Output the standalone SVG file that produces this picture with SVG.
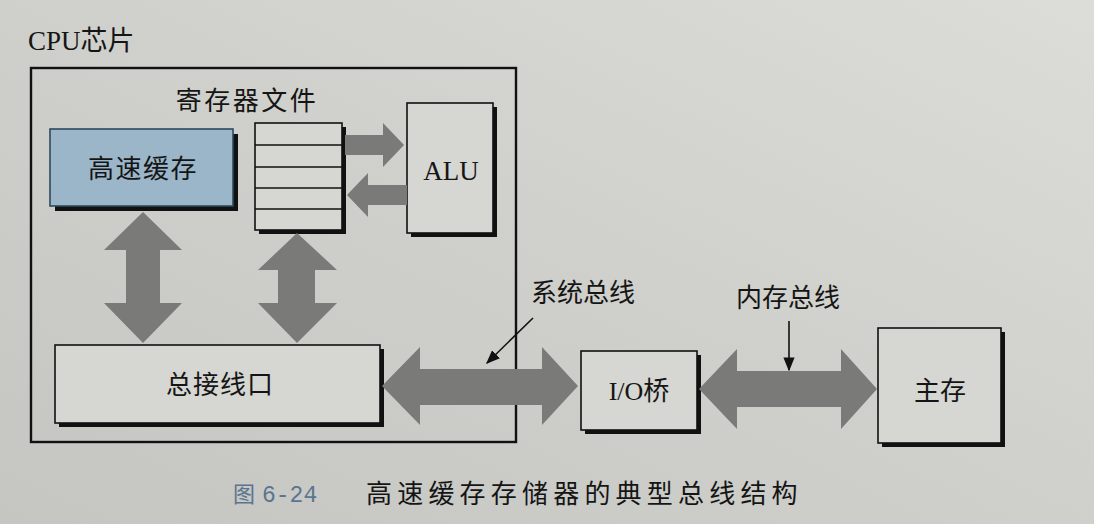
<svg xmlns="http://www.w3.org/2000/svg" width="1094" height="524" viewBox="0 0 1094 524">
<defs>
<linearGradient id="bg" x1="0" y1="1" x2="1" y2="0">
<stop offset="0" stop-color="#c5c5c1"/>
<stop offset="0.5" stop-color="#cfcfcb"/>
<stop offset="1" stop-color="#dcdcd9"/>
</linearGradient>
<marker id="ah2" viewBox="0 0 10 10" refX="9" refY="5" markerWidth="14" markerHeight="14" markerUnits="userSpaceOnUse" orient="auto">
<path d="M0,1 L10,5 L0,9 z" fill="#111"/>
</marker>
</defs>
<style>
.box{fill:#d6d6d2;stroke:#111;stroke-width:1.6}
.sh{fill:#111}
.arr{fill:#7a7a78}
.t{font-family:"Liberation Serif","Noto Sans CJK SC",serif;fill:#151515}
.cn{font-size:26px;text-anchor:middle}
.ptr{stroke:#111;stroke-width:1.6;fill:none}
</style>
<rect x="0" y="0" width="1094" height="524" fill="url(#bg)"/>

<g id="cpu">
<text class="t" x="28" y="50" font-size="27">CPU芯片</text>
<rect x="31" y="68" width="485" height="374" fill="none" stroke="#111" stroke-width="2.4"/>
</g>

<g id="regfile">
<text class="t cn" x="247" y="110" letter-spacing="2.5">寄存器文件</text>
<rect class="sh" x="259" y="127" width="87" height="107"/>
<rect class="box" x="255" y="123" width="87" height="107"/>
<line x1="255" y1="145" x2="342" y2="145" stroke="#111" stroke-width="1.5"/>
<line x1="255" y1="167" x2="342" y2="167" stroke="#111" stroke-width="1.5"/>
<line x1="255" y1="188" x2="342" y2="188" stroke="#111" stroke-width="1.5"/>
<line x1="255" y1="209" x2="342" y2="209" stroke="#111" stroke-width="1.5"/>
</g>

<g id="cache">
<rect class="sh" x="55" y="134" width="183" height="77"/>
<rect x="50" y="129" width="183" height="77" fill="#9bb6c9" stroke="#2e4a5e" stroke-width="1.6"/>
<text class="t cn" x="143" y="178" letter-spacing="1.5">高速缓存</text>
</g>

<g id="alu">
<rect class="sh" x="411" y="107" width="86" height="130"/>
<rect class="box" x="407" y="103" width="86" height="130"/>
<text class="t" x="451" y="180" font-size="27" text-anchor="middle">ALU</text>
</g>

<g id="businterface">
<rect class="sh" x="59" y="349" width="325" height="78"/>
<rect class="box" x="55" y="345" width="325" height="78"/>
<text class="t cn" x="220" y="394" letter-spacing="1">总接线口</text>
</g>

<g id="iobridge">
<rect class="sh" x="585" y="355" width="116" height="79"/>
<rect class="box" x="581" y="351" width="116" height="79"/>
<text class="t" x="639" y="400" font-size="26" text-anchor="middle">I/O桥</text>
</g>

<g id="mainmem">
<rect class="sh" x="882" y="332" width="123" height="115"/>
<rect class="box" x="878" y="328" width="123" height="115"/>
<text class="t cn" x="940" y="400" font-size="25">主存</text>
</g>

<g id="connectors">
<polygon class="arr" points="345,135 383,135 383,123 404,145 383,167 383,155 345,155"/>
<polygon class="arr" points="407,185 368,185 368,173 347,195 368,217 368,205 407,205"/>
<polygon class="arr" points="143,212 182,250 160,250 160,303 182,303 143,343 104,303 126,303 126,250 104,250"/>
<polygon class="arr" points="297,233 337,270 315,270 315,303 337,303 297,343 258,303 278,303 278,270 258,270"/>
<polygon class="arr" points="382,386 420,347 420,369 542,369 542,347 578,386 542,425 542,405 420,405 420,425"/>
<polygon class="arr" points="699,389 737,349 737,371 841,371 841,349 877,389 841,429 841,407 737,407 737,429"/>
<text class="t cn" x="583" y="302">系统总线</text>
<line class="ptr" x1="533" y1="318" x2="487" y2="363" marker-end="url(#ah2)"/>
<text class="t cn" x="788" y="307">内存总线</text>
<line class="ptr" x1="789" y1="321" x2="789" y2="370" marker-end="url(#ah2)"/>
</g>

<g id="caption">
<text x="233" y="502" font-family="'Noto Sans CJK SC',sans-serif" font-size="22" fill="#5b7590">图</text>
<text x="262" y="502" font-family="'Liberation Mono',monospace" font-size="23" fill="#5b7590">6-24</text>
<text class="t" x="366" y="503" font-size="26" letter-spacing="5.2">高速缓存存储器的典型总线结构</text>
</g>
</svg>
